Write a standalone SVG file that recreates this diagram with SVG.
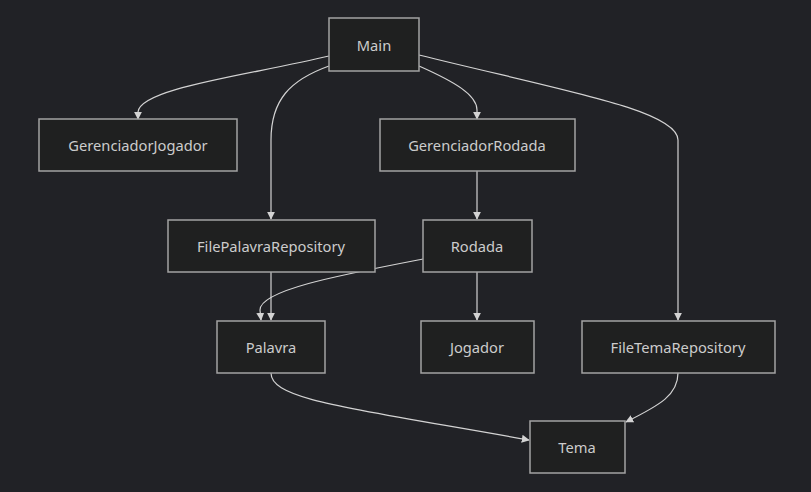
<svg xmlns="http://www.w3.org/2000/svg" width="811" height="492" viewBox="0 0 811 492">
<defs>
<style>
.bg{fill:#212226}
.node rect{fill:#1f2020;stroke:#a3a3a3;stroke-width:1.5}
.node text{fill:#cccccc;font-family:"Noto Sans","DejaVu Sans",sans-serif;font-size:14.7px;text-anchor:middle;dominant-baseline:central}
.edges path{fill:none;stroke:#d3d3d3;stroke-width:1.2}
</style>
<marker id="arr" viewBox="0 0 10 10" refX="9" refY="5" markerWidth="8" markerHeight="8" markerUnits="userSpaceOnUse" orient="auto">
<path d="M0,0 L10,5 L0,10 z" fill="#d3d3d3"/>
</marker>
</defs>
<rect class="bg" x="0" y="0" width="811" height="492"/>
<g class="edges">
<path d="M329,56 C250,75 140,88 138,112 L138,119" marker-end="url(#arr)"/>
<path d="M329,66 C290,80 271,100 271,140 L271,219" marker-end="url(#arr)"/>
<path d="M419,66 C455,82 477,95 477,110 L477,119" marker-end="url(#arr)"/>
<path d="M419,55 C560,90 678,110 678,140 L678,320" marker-end="url(#arr)"/>
<path d="M477,171 L477,219" marker-end="url(#arr)"/>
<path d="M271,272 L271,320" marker-end="url(#arr)"/>
<path d="M423,259 C340,275 260,290 260,310 L261,320" marker-end="url(#arr)"/>
<path d="M477,272 L477,320" marker-end="url(#arr)"/>
<path d="M271,373 C271,400 350,408 529,440" marker-end="url(#arr)"/>
<path d="M678,373 C678,395 660,405 626,422" marker-end="url(#arr)"/>
</g>
<g id="node-Main" class="node"><rect x="329" y="18" width="90" height="53"/><text x="374" y="44.5">Main</text></g>
<g id="node-GerenciadorJogador" class="node"><rect x="39" y="119" width="198" height="52"/><text x="138" y="144.5">GerenciadorJogador</text></g>
<g id="node-GerenciadorRodada" class="node"><rect x="380" y="119" width="195" height="52"/><text x="477" y="144.5">GerenciadorRodada</text></g>
<g id="node-FilePalavraRepository" class="node"><rect x="168" y="220" width="207" height="52"/><text x="271" y="245.5">FilePalavraRepository</text></g>
<g id="node-Rodada" class="node"><rect x="423" y="220" width="109" height="52"/><text x="477" y="245.5">Rodada</text></g>
<g id="node-Palavra" class="node"><rect x="217" y="321" width="108" height="52"/><text x="271" y="346.5">Palavra</text></g>
<g id="node-Jogador" class="node"><rect x="421" y="321" width="113" height="52"/><text x="477" y="346.5">Jogador</text></g>
<g id="node-FileTemaRepository" class="node"><rect x="582" y="321" width="193" height="52"/><text x="678" y="346.5">FileTemaRepository</text></g>
<g id="node-Tema" class="node"><rect x="530" y="421" width="95" height="52"/><text x="577" y="446.5">Tema</text></g>
</svg>
